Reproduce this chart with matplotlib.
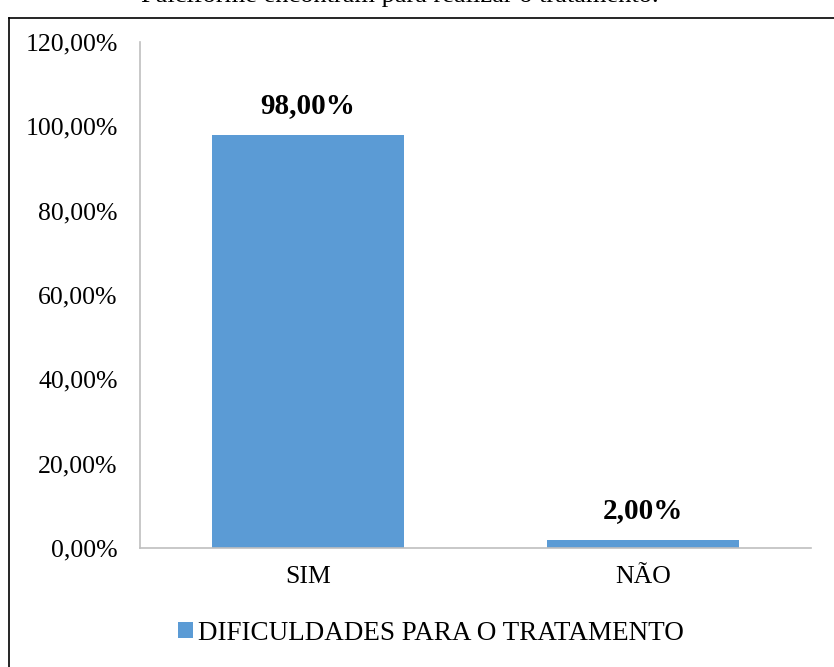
import matplotlib.pyplot as plt
from matplotlib.lines import Line2D

# dados do gráfico
categorias = ["SIM", "NÃO"]
percentuais = [98.0, 2.0]
rotulos_y = ["0,00%", "20,00%", "40,00%", "60,00%", "80,00%", "100,00%", "120,00%"]
valores_y = [0, 20, 40, 60, 80, 100, 120]
serie = "DIFICULDADES PARA O TRATAMENTO"
titulo = "Falciforme encontram para realizar o tratamento."

COR_BARRA = "#5B9BD5"
COR_EIXO = "#BFBFBF"

plt.rcParams["font.family"] = ["Liberation Serif", "DejaVu Serif"]

fig = plt.figure(figsize=(8.34, 6.67), dpi=100)
W, H = 834, 667

# moldura da figura (cortada à direita e embaixo)
fig.add_artist(Line2D([9 / W, 1], [1 - 18 / H, 1 - 18 / H], color="black", lw=1.2))
fig.add_artist(Line2D([9 / W, 9 / W], [0, 1 - 18 / H], color="black", lw=1.2))

# título do documento, só a parte de baixo aparece
fig.text(400 / W, 1 + 4 / H, titulo, ha="center", va="center", fontsize=19)

ax = fig.add_axes([140 / W, 1 - 548 / H, (811 - 140) / W, (548 - 42) / H])
x = range(len(categorias))
barras = ax.bar(x, percentuais, width=0.572, color=COR_BARRA, label=serie, zorder=2)

ax.set_xlim(-0.5, 1.5)
ax.set_ylim(0, 120)
ax.set_yticks(valores_y)
ax.set_yticklabels(rotulos_y, fontsize=18.5)
ax.set_xticks(list(x))
ax.set_xticklabels(categorias, fontsize=18.5)
ax.tick_params(axis="both", length=0)
ax.tick_params(axis="y", pad=16)
ax.tick_params(axis="x", pad=13)

for lado in ["top", "right"]:
    ax.spines[lado].set_visible(False)
for lado in ["left", "bottom"]:
    ax.spines[lado].set_color(COR_EIXO)
    ax.spines[lado].set_linewidth(1.2)

# rótulos de valor
for b, v in zip(barras, percentuais):
    ax.annotate(f"{v:.2f}%".replace(".", ","),
                (b.get_x() + b.get_width() / 2, v),
                xytext=(0, 11), textcoords="offset points",
                ha="center", va="bottom", fontsize=21, fontweight="bold")

fig.legend(handles=[barras], labels=[serie], loc="center",
           bbox_to_anchor=(431 / W, 1 - 633 / H), frameon=False,
           fontsize=19.5, handlelength=0.55, handleheight=0.55, handletextpad=0.2)

fig.savefig("out.png", dpi=100)
